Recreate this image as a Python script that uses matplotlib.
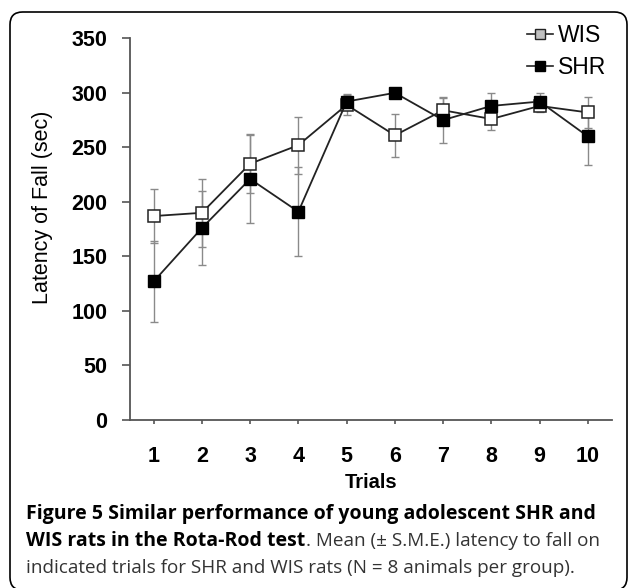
import matplotlib
matplotlib.use("Agg")
import matplotlib.pyplot as plt
from matplotlib.lines import Line2D
from matplotlib.patches import FancyBboxPatch

trials = [1, 2, 3, 4, 5, 6, 7, 8, 9, 10]
wis_mean = [187, 190, 235, 252, 289, 261, 284, 276, 288, 282]
wis_err = [25, 31, 27, 26, 9, 20, 11, 10, 6, 14]
shr_mean = [127, 176, 221, 191, 292, 300, 275, 288, 292, 260]
shr_err = [37, 34, 40, 41, 7, 0, 21, 12, 8, 26]
yticks = [0, 50, 100, 150, 200, 250, 300, 350]

W, H = 629, 588
fig = plt.figure(figsize=(W / 100, H / 100), dpi=100)

# axes placement (pixels -> fraction)
ax_l, ax_r, ax_t, ax_b = 129.5, 612, 38.3, 420
ax = fig.add_axes([ax_l / W, (H - ax_b) / H, (ax_r - ax_l) / W, (ax_b - ax_t) / H])

spine_col = "#555555"
err_col = "#8a8a8a"

ax.errorbar(trials, wis_mean, yerr=wis_err, fmt="none", ecolor=err_col,
            elinewidth=1.0, capsize=2.8, capthick=1.0, zorder=1)
ax.errorbar(trials, shr_mean, yerr=shr_err, fmt="none", ecolor=err_col,
            elinewidth=1.0, capsize=2.8, capthick=1.0, zorder=1)
ax.plot(trials, wis_mean, color="#222222", lw=1.3, marker="s", markersize=8,
        markerfacecolor="white", markeredgecolor="#222222", markeredgewidth=1.1, zorder=3)
ax.plot(trials, shr_mean, color="#222222", lw=1.3, marker="s", markersize=8,
        markerfacecolor="black", markeredgecolor="black", zorder=4)

ax.set_xlim(0.5, 10.5)
ax.set_ylim(0, 350)
ax.set_xticks(trials)
ax.set_yticks(yticks)
ax.set_xticklabels([str(t) for t in trials], fontsize=15.5, fontweight="bold",
                   family="Liberation Sans")
ax.set_yticklabels([str(t) for t in yticks], fontsize=15.5, fontweight="bold",
                   family="Liberation Sans")

for s in ["top", "right"]:
    ax.spines[s].set_visible(False)
for s in ["left", "bottom"]:
    ax.spines[s].set_color(spine_col)
    ax.spines[s].set_linewidth(1.3)

ax.tick_params(axis="y", direction="out", length=6, width=1.2, color=spine_col, pad=10)
ax.tick_params(axis="x", direction="out", length=3, width=1.2, color=spine_col, pad=16)

ax.set_ylabel("Latency of Fall (sec)", fontsize=15.5, family="Liberation Sans")
ax.yaxis.set_label_coords((53 - ax_l) / (ax_r - ax_l), (ax_b - 207.5) / (ax_b - ax_t))
ax.set_xlabel("Trials", fontsize=14.5, fontweight="bold", family="Liberation Sans")
ax.xaxis.set_label_coords(0.5, -(488 - ax_b) / (ax_b - ax_t))
ax.xaxis.label.set_va("baseline")

handles = [
    Line2D([], [], color="#222222", lw=1.2, marker="s", markersize=7,
           markerfacecolor="#c0c0c0", markeredgecolor="#222222"),
    Line2D([], [], color="#222222", lw=1.2, marker="s", markersize=7,
           markerfacecolor="black", markeredgecolor="black"),
]
leg = fig.legend(handles, ["WIS", "SHR"], loc="upper left",
                 bbox_to_anchor=(527 / W, 1 - 24 / H), frameon=False,
                 prop={"family": "Liberation Sans", "size": 16.5},
                 handlelength=1.15, handletextpad=0.2, labelspacing=0.38,
                 borderpad=0, borderaxespad=0)

# rounded frame around figure
frame = FancyBboxPatch((10 / W, (H - 590) / H), (627 - 10) / W, (590 - 12) / H,
                       boxstyle="round,pad=0,rounding_size=0.02",
                       transform=fig.transFigure, fill=False, edgecolor="black",
                       linewidth=1.2, mutation_aspect=W / H)
fig.patches.append(frame)

# caption
cap_font = "Open Sans"
bold_size = 14.0
reg_size = 13.6
x0 = 26.5 / W
fig.text(x0, 1 - 519 / H, "Figure 5 Similar performance of young adolescent SHR and",
         family=cap_font, fontsize=bold_size, fontweight="bold", va="baseline")
t2 = fig.text(x0, 1 - 546 / H, "WIS rats in the Rota-Rod test",
              family=cap_font, fontsize=bold_size, fontweight="bold", va="baseline")
fig.canvas.draw()
bb = t2.get_window_extent(renderer=fig.canvas.get_renderer())
fig.text(bb.x1 / W, 1 - 546 / H, ". Mean (\u00b1 S.M.E.) latency to fall on",
         family=cap_font, fontsize=reg_size, color="#333333", va="baseline")
fig.text(x0, 1 - 573 / H, "indicated trials for SHR and WIS rats (N = 8 animals per group).",
         family=cap_font, fontsize=reg_size, color="#333333", va="baseline")

fig.savefig("out.png", dpi=100)
